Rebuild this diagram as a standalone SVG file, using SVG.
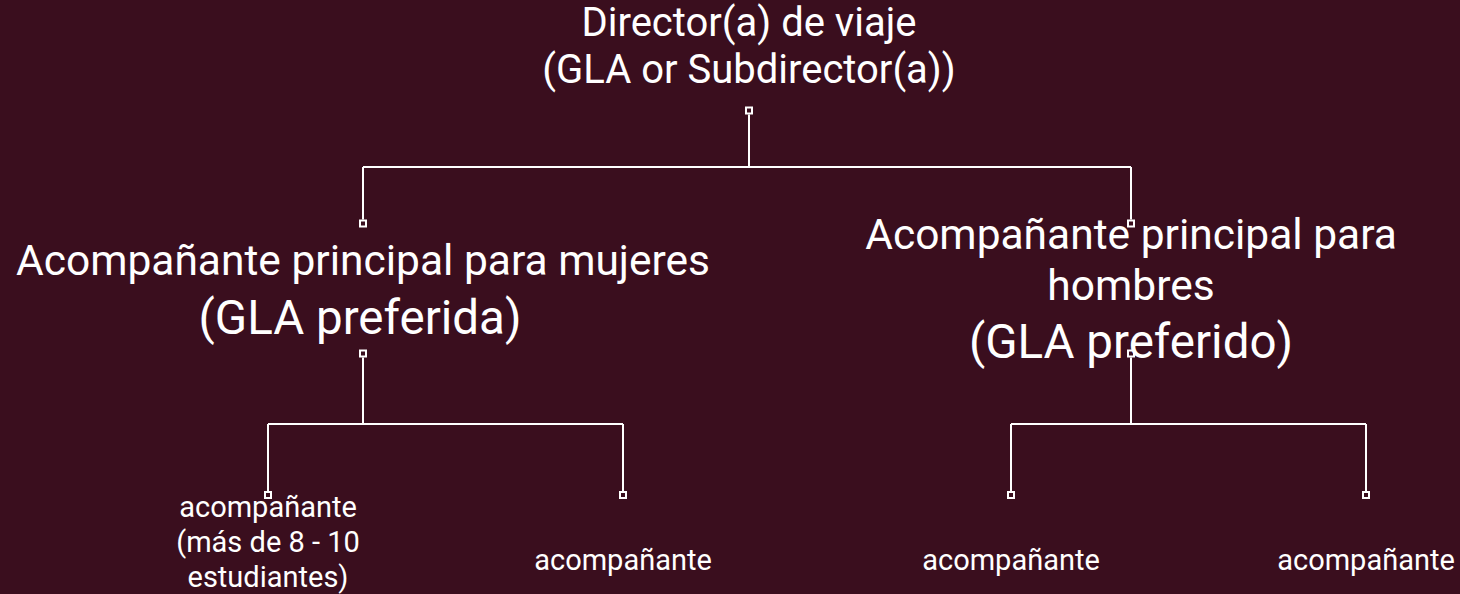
<svg xmlns="http://www.w3.org/2000/svg" width="1460" height="594" viewBox="0 0 1460 594">
<style>
text{font-family:Roboto,"Liberation Sans",sans-serif;fill:#ffffff;text-anchor:middle}
.t1{font-size:40px}
.t2{font-size:42.5px}
.t3{font-size:47.5px}
.t4{font-size:29px}
.ln{stroke:#ffffff;stroke-width:2;fill:none}
.sq{stroke:#ffffff;stroke-width:2;fill:none}
</style>
<rect width="1460" height="594" fill="#3a0e1e"/>
<g id="connectors">
<path class="ln" d="M749 114.5V167M363 167H1131M363 167V219.5M1131 167V219.5"/>
<path class="ln" d="M363 357.5V424M268 424H623M268 424V491.5M623 424V491.5"/>
<path class="ln" d="M1131 357.5V424M1011 424H1366M1011 424V491.5M1366 424V491.5"/>
<rect class="sq" x="746" y="107.5" width="6" height="6"/>
<rect class="sq" x="360" y="220.5" width="6" height="6"/>
<rect class="sq" x="1128" y="220.5" width="6" height="6"/>
<rect class="sq" x="360" y="350.5" width="6" height="6"/>
<rect class="sq" x="1128" y="350.5" width="6" height="6"/>
<rect class="sq" x="265" y="492" width="6" height="6"/>
<rect class="sq" x="620" y="492" width="6" height="6"/>
<rect class="sq" x="1008" y="492" width="6" height="6"/>
<rect class="sq" x="1363" y="492" width="6" height="6"/>
</g>
<g id="director">
<text class="t1" x="749" y="36">Director(a) de viaje</text>
<text class="t1" x="749" y="83">(GLA or Subdirector(a))</text>
</g>
<g id="principal-mujeres">
<text class="t2" x="363" y="275">Acompañante principal para mujeres</text>
<text class="t3" x="360" y="334">(GLA preferida)</text>
</g>
<g id="principal-hombres">
<text class="t2" x="1131" y="249">Acompañante principal para</text>
<text class="t2" x="1131" y="300">hombres</text>
<text class="t3" x="1131" y="358">(GLA preferido)</text>
</g>
<g id="acomp-1">
<text class="t4" x="268" y="517">acompañante</text>
<text class="t4" x="268" y="552">(más de 8 - 10</text>
<text class="t4" x="268" y="587">estudiantes)</text>
</g>
<g id="acomp-2">
<text class="t4" x="623" y="570">acompañante</text>
</g>
<g id="acomp-3">
<text class="t4" x="1011" y="570">acompañante</text>
</g>
<g id="acomp-4">
<text class="t4" x="1366" y="570">acompañante</text>
</g>
</svg>
